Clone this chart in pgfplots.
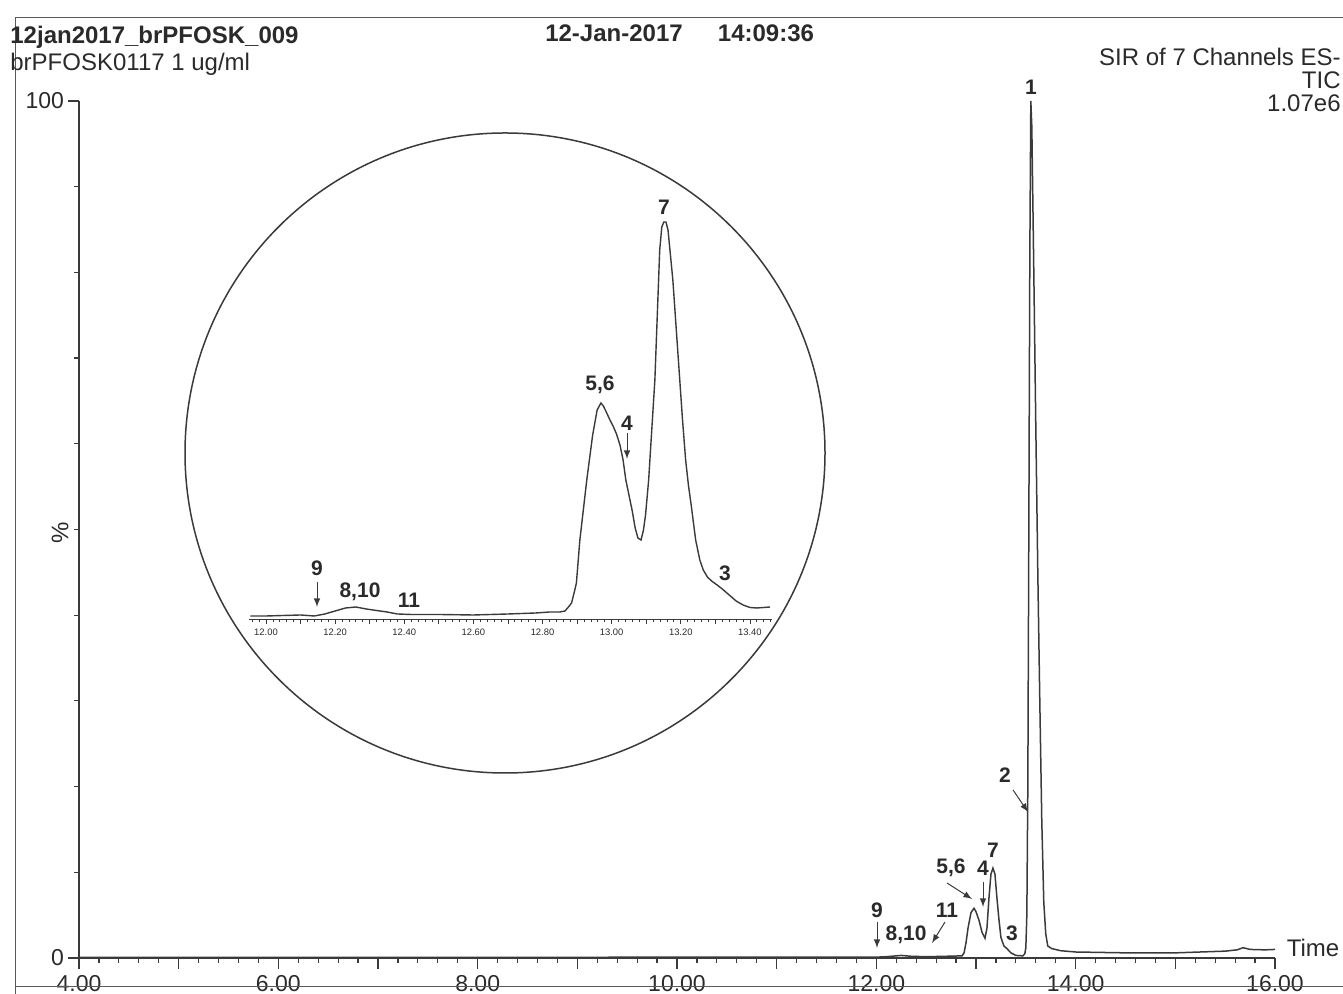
\documentclass[border=0pt]{standalone}
\usepackage{pgfplots}
\pgfplotsset{compat=1.18}
\usepackage{fontspec}
\setmainfont{Liberation Sans}
\definecolor{ink}{HTML}{2A2A2A}
\definecolor{trace}{HTML}{3A3A3A}
\begin{document}
\begin{tikzpicture}
\path[use as bounding box] (0,0) rectangle (671.5pt,497pt);

% main chromatogram, 1px = 0.5pt
\begin{axis}[
  at={(39.5pt,18pt)}, anchor=south west,
  scale only axis, width=598pt, height=428.5pt,
  xmin=4, xmax=16, ymin=0, ymax=100,
  axis lines=left, axis line style={-, draw=trace, line width=0.6pt},
  clip=false,
  xtick={4,5,...,16},
  xticklabels={4.00,,6.00,,8.00,,10.00,,12.00,,14.00,,16.00},
  minor x tick num=4,
  ytick={0,100},
  yticklabels={0,100},
  minor ytick={10,20,...,90},
  tick align=outside,
  major tick length=5.5pt, minor tick length=2.5pt,
  tick style={draw=trace, line width=0.6pt},
  ticklabel style={font=\fontsize{11.5}{13}\selectfont, text=ink},
  xticklabel style={yshift=0.5pt},
  yticklabel style={xshift=1.5pt},
]
\addplot[trace, line width=0.75pt] coordinates {
(4.0,0.08) (8.0,0.08) (11.8,0.1) (12.0,0.1) (12.1,0.15) (12.25,0.3) (12.35,0.2)
(12.5,0.15) (12.7,0.2) (12.86,0.25) (12.88,0.6) (12.90,1.8) (12.92,3.5) (12.95,5.3)
(12.98,5.8) (13.00,5.4) (13.03,4.4) (13.06,3.0) (13.09,2.3) (13.11,3.5) (13.13,7.0)
(13.15,9.8) (13.17,10.5) (13.19,9.8) (13.21,7.0) (13.23,4.5) (13.25,2.4) (13.28,1.4)
(13.31,1.1) (13.35,0.6) (13.40,0.3) (13.47,0.25) (13.49,0.5) (13.50,1.2) (13.51,5)
(13.52,20) (13.53,50) (13.54,82) (13.55,100) (13.56,97) (13.58,80) (13.60,62)
(13.62,45) (13.64,30) (13.66,16) (13.68,6.5) (13.70,2.8) (13.72,1.4) (13.76,1.1)
(13.85,0.85) (14.0,0.7) (14.5,0.6) (15.0,0.6) (15.5,0.8) (15.62,0.95) (15.68,1.2)
(15.75,1.0) (15.9,0.95) (16.0,1.0)
};
\end{axis}

% zoomed inset
\begin{axis}[
  at={(124.35pt,187pt)}, anchor=south west,
  scale only axis, width=261.85pt, height=210pt,
  xmin=11.95, xmax=13.465, ymin=0, ymax=420,
  axis x line=bottom, axis y line=none,
  axis line style={-, draw=trace, line width=0.5pt},
  clip=false,
  xtick={12,12.1,...,13.45},
  xticklabels={12.00,,12.20,,12.40,,12.60,,12.80,,13.00,,13.20,,13.40},
  minor xtick={11.96,11.98,...,13.46},
  tick align=outside,
  major tick length=2pt, minor tick length=1.2pt,
  tick style={draw=trace, line width=0.4pt},
  ticklabel style={font=\fontsize{4.7}{5.5}\selectfont, text=ink},
  xticklabel style={yshift=1pt},
]
\addplot[trace, line width=0.7pt] coordinates {
(11.955,4) (12.00,4) (12.05,4.5) (12.10,5) (12.14,4) (12.17,6) (12.20,9) (12.23,12)
(12.26,13) (12.29,11) (12.32,9.5) (12.35,8) (12.38,6) (12.42,5.5) (12.50,5.5)
(12.60,5) (12.70,6) (12.78,7) (12.82,8) (12.85,8) (12.865,9) (12.875,13) (12.884,17)
(12.892,28) (12.898,37) (12.908,80) (12.918,110) (12.928,140) (12.945,185) (12.958,210)
(12.969,217) (12.976,214) (12.983,209) (12.995,200) (13.004,194) (13.014,186)
(13.024,175) (13.033,160) (13.041,140) (13.05,125) (13.059,110) (13.068,92) (13.076,82)
(13.085,80) (13.092,90) (13.098,105) (13.107,140) (13.116,190) (13.125,240) (13.132,305)
(13.139,370) (13.145,393) (13.151,398) (13.157,398) (13.163,390) (13.170,365)
(13.177,340) (13.187,290) (13.197,240) (13.205,200) (13.214,160) (13.222,135)
(13.230,115) (13.243,80) (13.255,60) (13.265,50) (13.277,43) (13.289,39) (13.305,35)
(13.32,31) (13.34,25) (13.36,19) (13.38,15) (13.40,12.5) (13.42,12) (13.44,12.5)
(13.458,13)
};
\end{axis}

% page furniture and annotations in pixel units (origin top left)
\begin{scope}[shift={(0pt,497pt)}, x=0.5pt, y=-0.5pt, ink,
  lab/.style={font=\fontsize{10.5}{12}\selectfont\bfseries, inner sep=0pt},
  arr/.style={-latex, line width=0.5pt, draw=trace}]
\draw[gray!70!black, line width=0.5pt] (15,994) -- (15,18) -- (1343,18);
\draw[gray!70!black, line width=0.5pt] (15,987) -- (1343,987);
\draw[trace, line width=0.75pt] (505,453) circle [radius=160pt];

\node[anchor=west, font=\fontsize{12}{14}\selectfont\bfseries, inner sep=0pt] at (10,37) {12jan2017\_brPFOSK\_009};
\node[anchor=west, font=\fontsize{12}{14}\selectfont, inner sep=0pt] at (10,64) {brPFOSK0117 1 ug/ml};
\node[font=\fontsize{12}{14}\selectfont\bfseries, inner sep=0pt] at (614,33) {12-Jan-2017};
\node[font=\fontsize{12}{14}\selectfont\bfseries, inner sep=0pt] at (766,33) {14:09:36};
\node[anchor=east, font=\fontsize{12}{14}\selectfont, inner sep=0pt] at (1341,57) {SIR of 7 Channels ES-};
\node[anchor=east, font=\fontsize{12}{14}\selectfont, inner sep=0pt] at (1341,80) {TIC};
\node[anchor=east, font=\fontsize{12}{14}\selectfont, inner sep=0pt] at (1341,103) {1.07e6};
\node[rotate=90, font=\fontsize{12}{14}\selectfont, inner sep=0pt] at (60,533) {\%};
\node[font=\fontsize{12}{14}\selectfont, inner sep=0pt] at (1313,948) {Time};

% main peak labels
\node[lab] at (1031,87) {1};
\node[lab] at (1005,775) {2};
\draw[arr] (1013,790) -- (1028,812);
\node[lab] at (951,868) {5,6};
\draw[arr] (947,883) -- (972,899);
\node[lab] at (983,868) {4};
\draw[arr] (983,882) -- (983,907);
\node[lab] at (993,850) {7};
\node[lab] at (1012,933) {3};
\node[lab] at (877,910) {9};
\draw[arr] (877,922) -- (877,948);
\node[lab] at (906,935) {8,10};
\node[lab] at (947,910) {11};
\draw[arr] (945,922) -- (932,943);

% inset labels
\node[lab] at (664,207) {7};
\node[lab] at (600,385) {5,6};
\node[lab] at (627,423) {4};
\draw[arr] (627,433) -- (627,459);
\node[lab] at (725,573) {3};
\node[lab] at (317,568) {9};
\draw[arr] (317,582) -- (317,607);
\node[lab] at (360,592) {8,10};
\node[lab] at (409,600) {11};
\end{scope}
\end{tikzpicture}
\end{document}
